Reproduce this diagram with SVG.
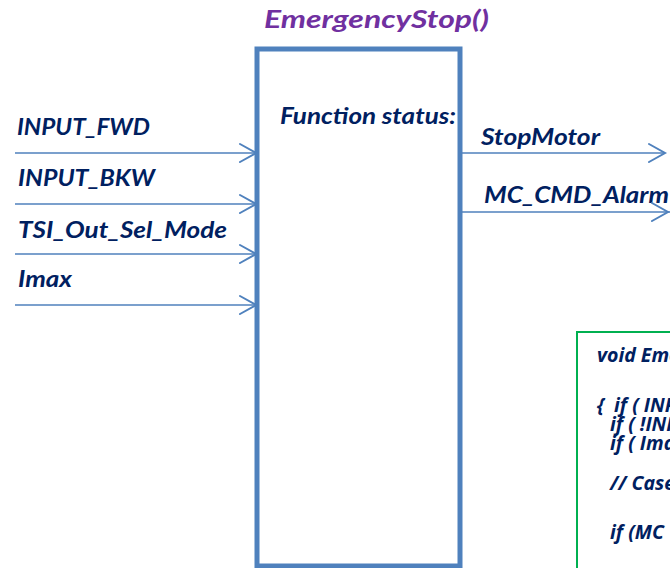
<svg xmlns="http://www.w3.org/2000/svg" width="670" height="568" viewBox="0 0 670 568">
<style>
.lbl{font-family:Lato,"Open Sans","Liberation Sans",sans-serif;font-weight:bold;font-style:italic;fill:#002060}
.io{font-size:22px}
.code{font-family:"Open Sans",Lato,"Liberation Sans",sans-serif;font-weight:bold;font-style:italic;fill:#002060;font-size:19.5px;white-space:pre}
.title{font-family:Lato,"Open Sans","Liberation Sans",sans-serif;font-weight:bold;font-style:italic;fill:#7030A0;font-size:25px}
.wire{stroke:#4F81BD;stroke-width:1.6;fill:none}
.head{stroke:#4F81BD;stroke-width:2;fill:none;stroke-linecap:round}
</style>
<rect x="0" y="0" width="670" height="568" fill="#FFFFFF"/>
<g id="title"><text class="title" x="264" y="28" textLength="225" lengthAdjust="spacingAndGlyphs">EmergencyStop()</text></g>
<g id="function-block">
<rect x="257" y="49" width="203" height="517" fill="#FFFFFF" stroke="#4F81BD" stroke-width="5"/>
<text class="lbl io" x="280" y="124" textLength="176" lengthAdjust="spacingAndGlyphs">Function status:</text>
</g>
<g id="inputs">
<text class="lbl io" x="17" y="135" textLength="133" lengthAdjust="spacingAndGlyphs">INPUT_FWD</text>
<text class="lbl io" x="18" y="186" textLength="137" lengthAdjust="spacingAndGlyphs">INPUT_BKW</text>
<text class="lbl io" x="18" y="238" textLength="209" lengthAdjust="spacingAndGlyphs">TSI_Out_Sel_Mode</text>
<text class="lbl io" x="18" y="287" textLength="54" lengthAdjust="spacingAndGlyphs">Imax</text>
</g>
<g id="outputs">
<text class="lbl io" x="481" y="145" textLength="119" lengthAdjust="spacingAndGlyphs">StopMotor</text>
<text class="lbl io" x="484" y="203" textLength="185" lengthAdjust="spacingAndGlyphs">MC_CMD_Alarm</text>
</g>
<g id="connectors">
<line class="wire" x1="15" y1="153" x2="256" y2="153"/>
<polyline class="head" points="240,144 256,153 240,162"/>
<line class="wire" x1="15" y1="204" x2="256" y2="204"/>
<polyline class="head" points="240,195 256,204 240,213"/>
<line class="wire" x1="15" y1="254" x2="256" y2="254"/>
<polyline class="head" points="240,245 256,254 240,263"/>
<line class="wire" x1="15" y1="305" x2="256" y2="305"/>
<polyline class="head" points="240,296 256,305 240,314"/>
<line class="wire" x1="462" y1="153" x2="665" y2="153"/>
<polyline class="head" points="649,144 665,153 649,162"/>
<line class="wire" x1="462" y1="212" x2="670" y2="212"/>
<polyline class="head" points="652,203 668,212 652,221"/>
</g>
<g id="code-box">
<rect x="577" y="332" width="120" height="260" fill="#FFFFFF" stroke="#00B050" stroke-width="2"/>
<text class="code" x="597" y="362">void EmergencyStop()</text>
<text class="code" x="597" y="412">{  if ( INPUT_FWD</text>
<text class="code" x="610" y="431">if ( !INPUT_BKW</text>
<text class="code" x="610" y="450">if ( Imax</text>
<text class="code" x="610" y="490">// Case</text>
<text class="code" x="610" y="539">if (MC</text>
</g>
</svg>
